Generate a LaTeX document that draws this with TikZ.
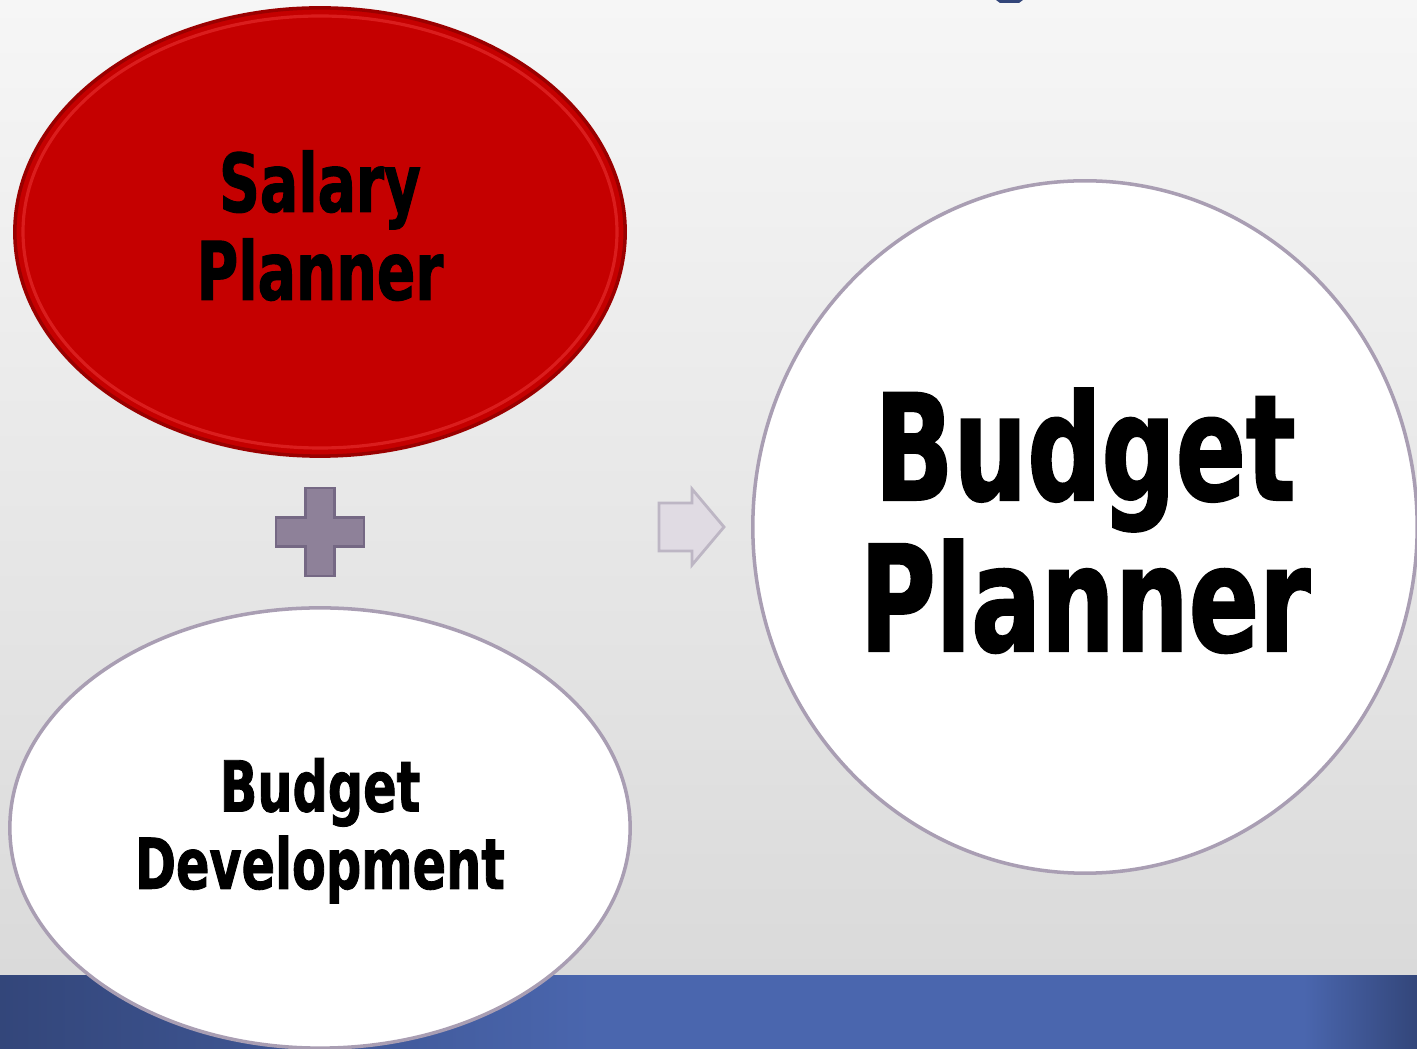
\documentclass[tikz,border=0pt]{standalone}
\usepackage{fontspec}
\usetikzlibrary{shapes.geometric}
\newfontfamily\impactfont[FakeStretch=0.78, FakeBold=1.2]{DejaVu Sans Condensed Bold}

\definecolor{bgtop}{HTML}{F6F6F6}
\definecolor{bgbottom}{HTML}{DADADA}
\definecolor{bardark}{HTML}{33467A}
\definecolor{barblue}{HTML}{4A66AE}
\definecolor{salaryred}{HTML}{C50000}
\definecolor{salaryedge}{HTML}{9A0000}
\definecolor{salaryrim}{HTML}{E42A2A}
\definecolor{bubbleedge}{HTML}{A99EB3}
\definecolor{plusfill}{HTML}{8E8199}
\definecolor{plusedge}{HTML}{756884}
\definecolor{arrowfill}{HTML}{E0DBE3}
\definecolor{arrowedge}{HTML}{BDB6C4}

% the path is fitted to the 25bp--75bp band of the shading
\pgfdeclarehorizontalshading{barshade}{100bp}{color(0bp)=(bardark); color(25bp)=(bardark); color(46bp)=(barblue); color(71bp)=(barblue); color(75bp)=(bardark); color(100bp)=(bardark)}

\tikzset{
  bubble/.style={ellipse, inner sep=0pt, align=center, text=black, line width=1pt},
  smalltext/.style={align=center, font=\impactfont\fontsize{23}{25}\selectfont},
  midtext/.style={align=center, font=\impactfont\fontsize{20}{22}\selectfont},
  bigtext/.style={align=center, font=\impactfont\fontsize{42}{43}\selectfont},
}

\begin{document}
\begin{tikzpicture}[x=0.01cm, y=-0.01cm]
	%%%%% START %%%%%
	\useasboundingbox (0,0) rectangle (1417,1049);
	
	\shade[top color=bgtop, bottom color=bgbottom] (0,0) rectangle (1417,976);
	\shade[shading=barshade] (0,976) rectangle (1417,1049);
	\fill[bardark] (996,0) -- (1023,0) -- (1019,3) -- (1000,3) -- cycle;
	
	% red ellipse with a lighter rim
	\node[bubble, fill=salaryred, draw=salaryedge, minimum width=6.1cm, minimum height=4.48cm] (salary) at (320,232) {};
	\draw[salaryrim, line width=0.9pt, opacity=0.7] (salary.center) ellipse [x radius=297, y radius=216];
	\node[smalltext, yshift=1.8pt] (salarytext) at (salary.center) {Salary\\Planner};
	
	% plus sign
	\draw[fill=plusfill, draw=plusedge, line width=0.8pt] (305.5,488) -- (334.5,488) -- (334.5,517.5) -- (364,517.5) -- (364,546.5) -- (334.5,546.5) -- (334.5,576) -- (305.5,576) -- (305.5,546.5) -- (276,546.5) -- (276,517.5) -- (305.5,517.5) -- cycle;
	
	\node[bubble, fill=white, draw=bubbleedge, minimum width=6.2cm, minimum height=4.4cm] (develop) at (320,828) {};
	\node[midtext, yshift=-0.8pt] (developtext) at (develop.center) {Budget\\Development};
	
	% arrow
	\draw[fill=arrowfill, draw=arrowedge, line width=0.8pt] (659,503) -- (692,503) -- (692,489) -- (724,527) -- (692,565) -- (692,551) -- (659,551) -- cycle;
	
	\node[bubble, fill=white, draw=bubbleedge, minimum width=6.64cm, minimum height=6.92cm] (budget) at (1085,527) {};
	\node[bigtext, yshift=1.8pt] (budgettext) at (budget.center) {Budget\\Planner};
	%%%%% END %%%%%
\end{tikzpicture}
\end{document}
